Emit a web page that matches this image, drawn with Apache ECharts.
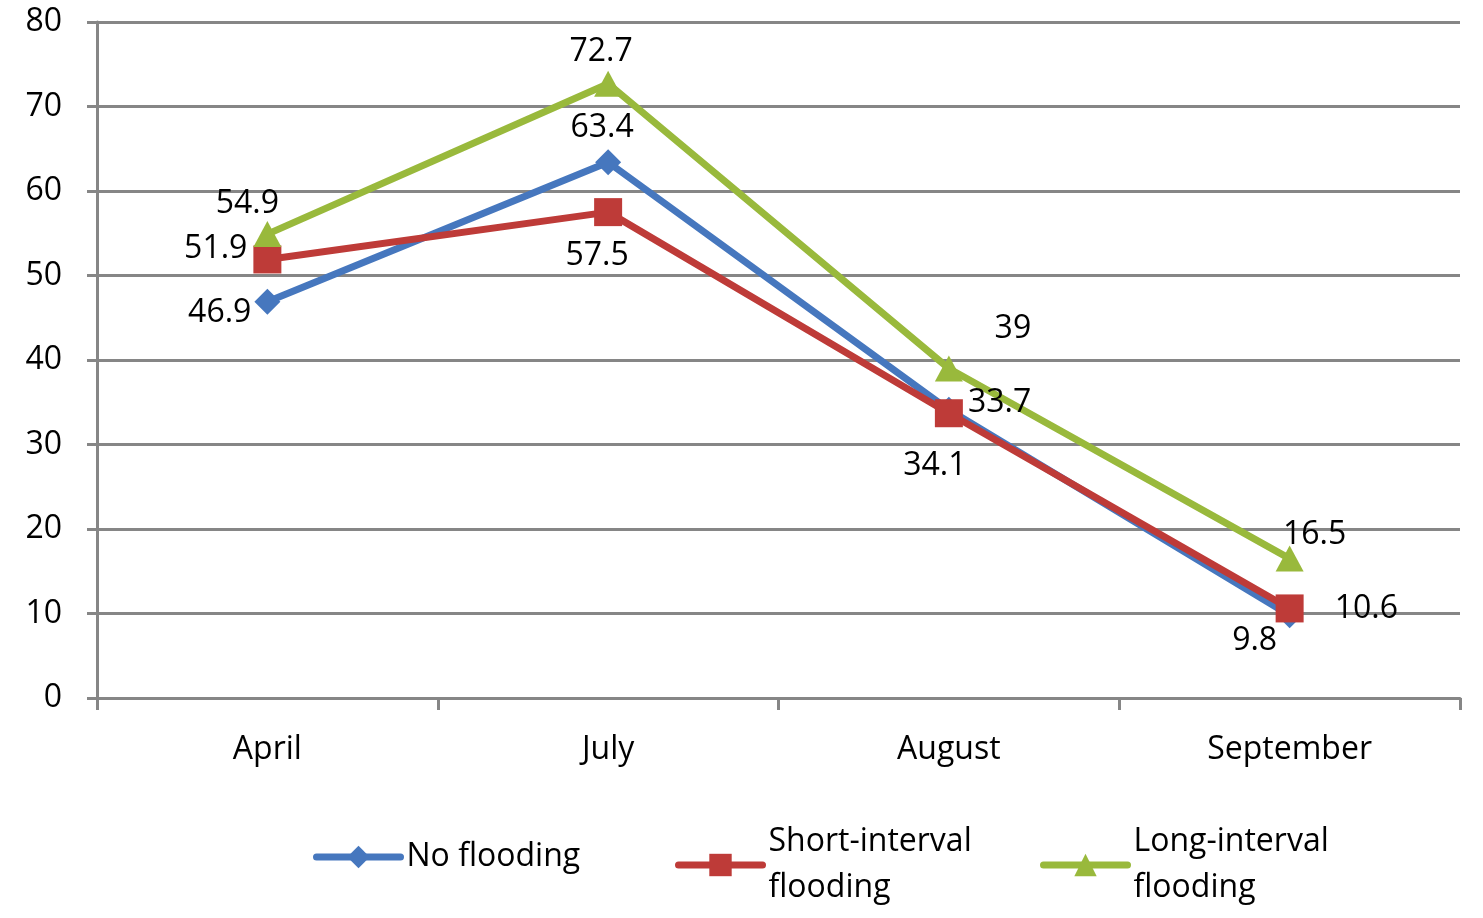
<!DOCTYPE html>
<html><head><meta charset="utf-8">
<script src="https://cdn.jsdelivr.net/npm/echarts@6/dist/echarts.min.js"></script>
<style>html,body{margin:0;padding:0;background:#fff}#c{width:1483px;height:918px}</style>
</head><body><div id="c"></div>
<script>
const categories = ['April', 'July', 'August', 'September'];
const seriesNames = ['No flooding', 'Short-interval\nflooding', 'Long-interval\nflooding'];
const noFlooding = [46.9, 63.4, 34.1, 9.8];
const shortInterval = [51.9, 57.5, 33.7, 10.6];
const longInterval = [54.9, 72.7, 39, 16.5];
const yTicks = [0, 10, 20, 30, 40, 50, 60, 70, 80];

// label placement (style only)
const labelPlace = [
  [['left', [2, 11]], ['top', [-6, 0]], ['bottom', [-14, 22]], ['bottom', [-35, -8]]],
  [['left', [-1, -11]], ['bottom', [-11, 9]], ['right', [0, -10]], ['right', [26, 0]]],
  [['top', [-20, 4]], ['top', [-7, 2]], ['top', [64, -6]], ['top', [25, 10]]]
];
const colors = ['#4677BE', '#BE3B38', '#99B93C'];
const symbols = ['diamond', 'rect', 'triangle'];
const symbolSizes = [[26, 26], [28, 28], [28, 26]];
const FONT = 'Open Sans';
const FS = 32;

const values = [noFlooding, shortInterval, longInterval];
const series = values.map((vals, si) => ({
  name: seriesNames[si],
  type: 'line',
  data: vals.map((v, i) => ({
    value: v,
    label: { position: labelPlace[si][i][0], offset: labelPlace[si][i][1] }
  })),
  symbol: symbols[si],
  symbolSize: symbolSizes[si],
  showAllSymbol: true,
  lineStyle: { color: colors[si], width: 7 },
  itemStyle: { color: colors[si] },
  label: { show: true, fontFamily: FONT, fontSize: FS, color: '#000', distance: 5 },
  animation: false
}));

const legendLefts = [313, 675, 1040];
const legends = seriesNames.map((n, i) => ({
  data: [n],
  left: legendLefts[i],
  top: i === 0 ? 834 : 819,
  padding: 0,
  itemWidth: 84,
  itemHeight: 28,
  itemGap: 0,
  lineStyle: { width: 7, cap: 'round' },
  textStyle: { fontFamily: FONT, fontSize: FS, color: '#000', lineHeight: 46, padding: [0, 0, 0, 1] },
  selectedMode: false
}));

const chart = echarts.init(document.getElementById('c'), null, { renderer: 'canvas' });
chart.setOption({
  animation: false,
  backgroundColor: '#fff',
  color: colors,
  grid: { left: 97, right: 23, top: 22, bottom: 220, containLabel: false },
  legend: legends,
  xAxis: {
    type: 'category',
    data: categories,
    boundaryGap: true,
    axisLine: { lineStyle: { color: '#868686', width: 3 } },
    axisTick: { show: true, length: 12, lineStyle: { color: '#868686', width: 3 } },
    axisLabel: { fontFamily: FONT, fontSize: FS, color: '#000', margin: 36 },
    splitLine: { show: false }
  },
  yAxis: {
    type: 'value',
    min: yTicks[0],
    max: yTicks[yTicks.length - 1],
    interval: 10,
    axisLine: { show: true, lineStyle: { color: '#868686', width: 3 } },
    axisTick: { show: true, length: 10, lineStyle: { color: '#868686', width: 3 } },
    axisLabel: { fontFamily: FONT, fontSize: FS, color: '#000', margin: 35 },
    splitLine: { show: true, lineStyle: { color: '#868686', width: 3 } }
  },
  series: series
});
</script></body></html>
